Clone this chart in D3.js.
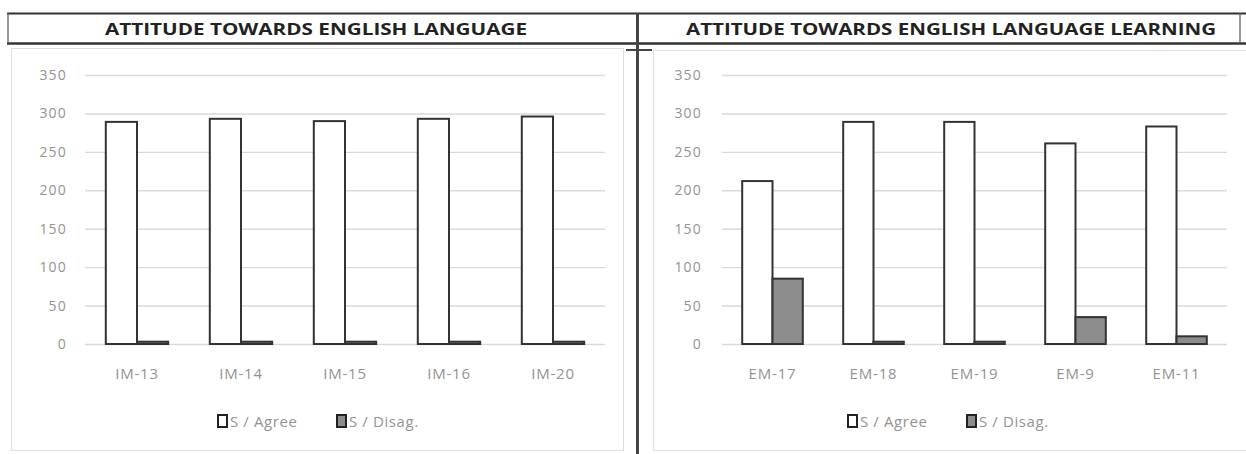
<!DOCTYPE html>
<html>
<head>
<meta charset="utf-8">
<script src="https://cdn.jsdelivr.net/npm/d3@7"></script>
<style>
  html, body { margin: 0; padding: 0; background: #fff; }
  svg { display: block; }
</style>
</head>
<body>
<svg id="chart" width="1246" height="454"></svg>
<script>
// ---- Data ----
const titleLeft = "ATTITUDE TOWARDS ENGLISH LANGUAGE";
const titleRight = "ATTITUDE TOWARDS ENGLISH LANGUAGE LEARNING";
const seriesNames = ["S / Agree", "S / Disag."];
const categoriesLeft = ["IM-13", "IM-14", "IM-15", "IM-16", "IM-20"];
const agreeLeft = [289, 293, 290, 293, 296];
const disagLeft = [3, 3, 3, 3, 3];
const categoriesRight = ["EM-17", "EM-18", "EM-19", "EM-9", "EM-11"];
const agreeRight = [212, 289, 289, 261, 283];
const disagRight = [85, 3, 3, 35, 10];
const yTicks = [0, 50, 100, 150, 200, 250, 300, 350];

const svg = d3.select("#chart");
const seriesFill = ["#ffffff", "#8c8c8c"];
const font = "Open Sans, Liberation Sans, sans-serif";
const labelColor = "#939393";

// ---- Frame: header band, divider ----
const frame = svg.append("g");
frame.append("line").attr("x1", 7).attr("x2", 1246).attr("y1", 13.5).attr("y2", 13.5)
  .attr("stroke", "#333").attr("stroke-width", 2.2);
frame.append("line").attr("x1", 7).attr("x2", 1246).attr("y1", 43.5).attr("y2", 43.5)
  .attr("stroke", "#333").attr("stroke-width", 2.4);
frame.append("line").attr("x1", 8).attr("x2", 8).attr("y1", 13).attr("y2", 44)
  .attr("stroke", "#555").attr("stroke-width", 1.2);
frame.append("line").attr("x1", 1240).attr("x2", 1240).attr("y1", 13).attr("y2", 44)
  .attr("stroke", "#555").attr("stroke-width", 1.2);
// divider
frame.append("line").attr("x1", 637.5).attr("x2", 637.5).attr("y1", 13).attr("y2", 454)
  .attr("stroke", "#444").attr("stroke-width", 3);
frame.append("line").attr("x1", 626).attr("x2", 652).attr("y1", 50).attr("y2", 50)
  .attr("stroke", "#444").attr("stroke-width", 2);

// chart boxes
svg.append("rect").attr("x", 11.5).attr("y", 48.5).attr("width", 612).attr("height", 402)
  .attr("fill", "none").attr("stroke", "#dedede").attr("stroke-width", 1);
svg.append("rect").attr("x", 653.5).attr("y", 50.5).attr("width", 600).attr("height", 400)
  .attr("fill", "none").attr("stroke", "#dedede").attr("stroke-width", 1);

// titles
svg.append("text").attr("x", 316).attr("y", 35).attr("text-anchor", "middle")
  .attr("font-family", font).attr("font-weight", "bold").attr("font-size", 16)
  .attr("fill", "#222").attr("textLength", 422).attr("lengthAdjust", "spacingAndGlyphs")
  .text(titleLeft);
svg.append("text").attr("x", 951).attr("y", 35).attr("text-anchor", "middle")
  .attr("font-family", font).attr("font-weight", "bold").attr("font-size", 16)
  .attr("fill", "#222").attr("textLength", 530).attr("lengthAdjust", "spacingAndGlyphs")
  .text(titleRight);

function drawPanel(cfg) {
  const { categories, agree, disag, x0, x1, tickX, legendX } = cfg;
  const y = d3.scaleLinear().domain([0, 350]).range([344, 75]);
  const x = d3.scaleBand().domain(categories).range([x0, x1]).paddingInner(0.4).paddingOuter(0.2);
  const xs = d3.scaleBand().domain(seriesNames).range([0, x.bandwidth()]);
  const g = svg.append("g");

  // gridlines
  const yAxis = d3.axisLeft(y).tickValues(yTicks).tickSize(-(x1 - x0)).tickPadding(12);
  const ya = g.append("g").attr("transform", `translate(${x0},0)`).call(yAxis);
  ya.select(".domain").remove();
  ya.selectAll(".tick line").attr("stroke", "#dadada").attr("stroke-width", 1.4);
  ya.selectAll(".tick text").attr("font-family", font).attr("font-size", 14)
    .attr("letter-spacing", 1.2)
    .attr("fill", labelColor).attr("x", tickX - x0).attr("text-anchor", "end");

  // bars
  const data = categories.map((c, i) => ({ c, vals: [agree[i], disag[i]] }));
  const grp = g.selectAll(".grp").data(data).join("g")
    .attr("transform", d => `translate(${x(d.c)},0)`);
  grp.selectAll("rect").data(d => d.vals.map((v, j) => ({ v, s: seriesNames[j], j })))
    .join("rect")
    .attr("x", d => xs(d.s))
    .attr("y", d => y(d.v))
    .attr("width", xs.bandwidth())
    .attr("height", d => y(0) - y(d.v))
    .attr("fill", d => seriesFill[d.j])
    .attr("stroke", "#333")
    .attr("stroke-width", 2);

  // x axis labels
  const xAxis = d3.axisBottom(x).tickSize(0).tickPadding(0);
  const xa = g.append("g").attr("transform", `translate(0,${y(0)})`).call(xAxis);
  xa.select(".domain").remove();
  xa.selectAll(".tick text").attr("font-family", font).attr("font-size", 15)
    .attr("letter-spacing", 0.8)
    .attr("fill", labelColor).attr("y", 35).attr("dy", 0);

  // legend
  const lg = g.append("g").attr("transform", `translate(${legendX},421)`);
  const offs = [0, 119];
  seriesNames.forEach((s, i) => {
    lg.append("rect").attr("x", offs[i]).attr("y", -6).attr("width", 9).attr("height", 12)
      .attr("fill", seriesFill[i]).attr("stroke", "#222").attr("stroke-width", 2);
    lg.append("text").attr("x", offs[i] + 12).attr("y", 6)
      .attr("font-family", font).attr("font-size", 15).attr("letter-spacing", 0.6)
      .attr("fill", labelColor).text(s);
  });
}

drawPanel({ categories: categoriesLeft, agree: agreeLeft, disag: disagLeft,
  x0: 85, x1: 605, tickX: 67, legendX: 218 });
drawPanel({ categories: categoriesRight, agree: agreeRight, disag: disagRight,
  x0: 722, x1: 1227, tickX: 702, legendX: 848 });
</script>
</body>
</html>
